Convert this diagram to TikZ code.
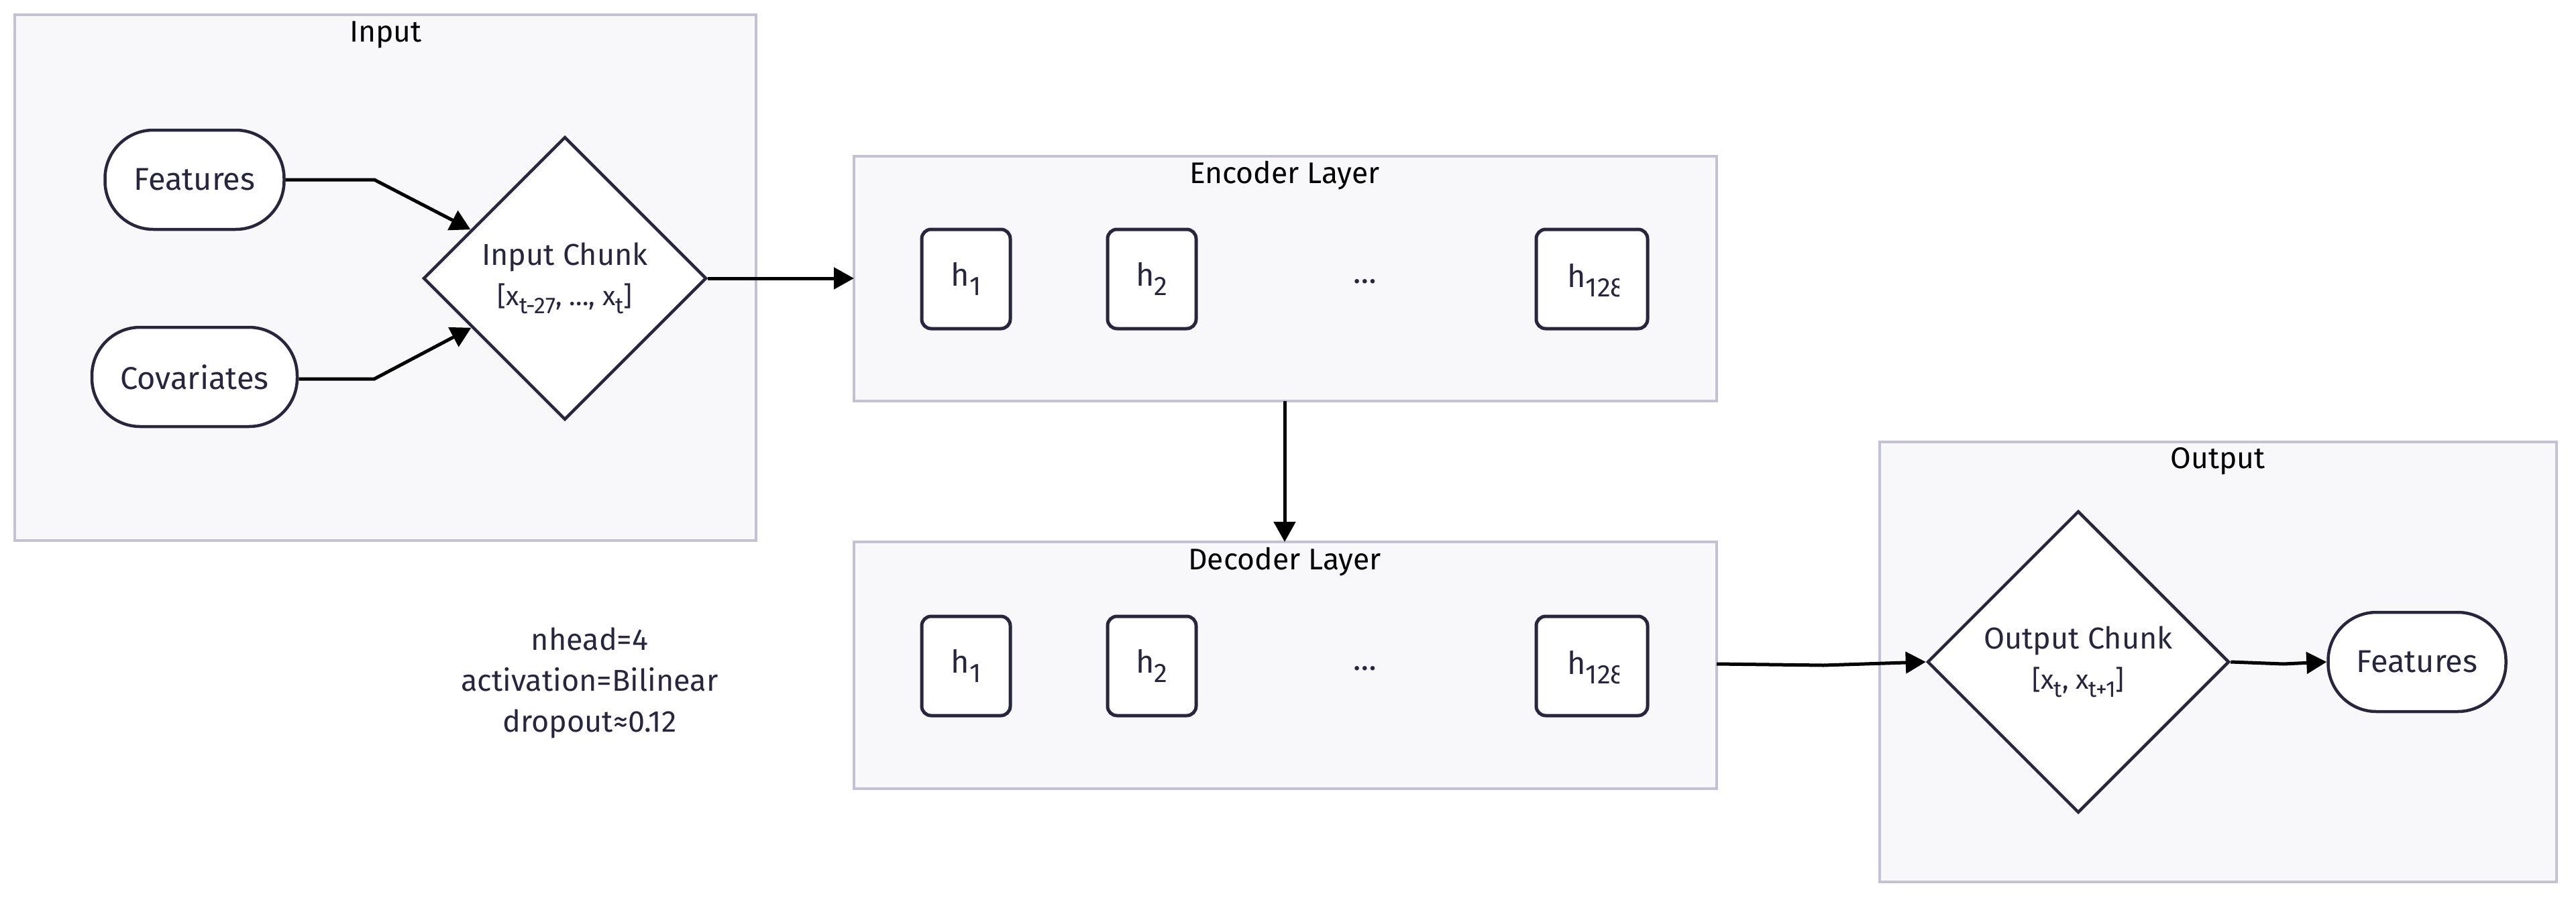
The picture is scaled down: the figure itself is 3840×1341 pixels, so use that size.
\documentclass[tikz,border=0pt]{standalone}
\usepackage{fontspec}
\setmainfont{Fira Sans}
\usetikzlibrary{shapes.geometric,arrows.meta}
\definecolor{clfill}{HTML}{F8F8FB}
\definecolor{cldraw}{HTML}{C2C2D4}
\definecolor{ndraw}{HTML}{28263C}
\definecolor{ntext}{HTML}{28263C}
\newcommand{\mysub}[2]{\raisebox{-0.3em}{\fontsize{#1}{#1}\selectfont #2}}
\tikzset{
  cluster/.style={draw=cldraw,fill=clfill,line width=3.5pt},
  cltitle/.style={text=black,font=\fontsize{44.5}{50}\selectfont,anchor=center},
  pill/.style={draw=ndraw,fill=white,line width=4.5pt,rounded corners=72pt,minimum width=#1,minimum height=148pt,text=ntext,font=\fontsize{47}{54}\selectfont},
  chunk/.style={draw=ndraw,fill=white,line width=4.5pt,diamond,inner sep=0pt,minimum width=#1,minimum height=#1,text=ntext,font=\fontsize{45}{62}\selectfont,align=center},
  hbox/.style={draw=ndraw,fill=white,line width=5pt,rounded corners=14pt,minimum width=#1,minimum height=148pt},
  hbox/.default=132pt,
  htext/.style={text=ntext,font=\fontsize{47}{54}\selectfont},
  conn/.style={line width=5pt,draw=black,-{Triangle[length=30pt,width=32pt]}},
}
\begin{document}
\begin{tikzpicture}[x=1pt,y=-1pt]
\useasboundingbox (0,0) rectangle (3840,1341);
% clusters
\draw[cluster] (22,22) rectangle (1127,806);
\node[cltitle] (tin) at (575,52) {Input};
\draw[cluster] (1273,233) rectangle (2559,598);
\node[cltitle] (tenc) at (1915,262) {Encoder Layer};
\draw[cluster] (1273,808) rectangle (2559,1176);
\node[cltitle] (tdec) at (1915,838) {Decoder Layer};
\draw[cluster] (2802,659) rectangle (3811,1315);
\node[cltitle] (tout) at (3306,688) {Output};
% cluster anchors
\coordinate (encW) at (1273,415);
\coordinate (encS) at (1915,598);
\coordinate (decN) at (1915,808);
\coordinate (decE) at (2559,990);
% input
\node[pill=267pt] (feat) at (290,268) {Features};
\node[pill=306pt] (cov) at (290,562) {Covariates};
\node[chunk=422pt] (ic) at (842,415) {Input Chunk\\[-2pt]{\fontsize{40}{44}\selectfont[x\mysub{34}{t-27}, \ldots, x\mysub{34}{t}]}};
% encoder
\foreach \n/\x/\s in {e1/1440/1,e2/1717/2}{
  \node[hbox] (\n) at (\x,416) {};
  \node[htext] at (\n) {h\mysub{40}{\s}};
}
\node[htext] (edots) at (2035,420) {\ldots};
\node[hbox=166pt] (e3) at (2373,416) {};
\begin{scope}
\clip (2300,340) rectangle (2413,490);
\node[htext,anchor=west,inner sep=0pt] (e3t) at (2336,418) {h\mysub{40}{128}};
\end{scope}
% decoder
\foreach \n/\x/\s in {d1/1440/1,d2/1717/2}{
  \node[hbox] (\n) at (\x,993) {};
  \node[htext] at (\n) {h\mysub{40}{\s}};
}
\node[htext] (ddots) at (2035,997) {\ldots};
\node[hbox=166pt] (d3) at (2373,993) {};
\begin{scope}
\clip (2300,917) rectangle (2413,1067);
\node[htext,anchor=west,inner sep=0pt] (d3t) at (2336,995) {h\mysub{40}{128}};
\end{scope}
% output
\node[chunk=450pt] (oc) at (3098,987) {Output Chunk\\[-2pt]{\fontsize{40}{44}\selectfont[x\mysub{34}{t}, x\mysub{34}{t+1}]}};
\node[pill=265pt] (ofeat) at (3603,987) {Features};
% params text
\node[text=ntext,font=\fontsize{45}{61}\selectfont,align=center] (params) at (879,1018) {nhead=4\\activation=Bilinear\\dropout≈0.12};
% connectors
\coordinate (fk) at (558,268);
\coordinate (ck) at (558,565);
\draw[conn] (feat.east) -- (fk) -- (ic);
\draw[conn] (cov.east |- ck) -- (ck) -- (ic);
\draw[conn] (ic.east) -- (encW);
\draw[conn] (encS) -- (decN);
\coordinate (dk) at (2718,992);
\draw[conn] (decE) -- (dk) -- (oc.west);
\coordinate (ok) at (3404,990);
\draw[conn] (oc.east) -- (ok) -- (ofeat.west);
\end{tikzpicture}
\end{document}
